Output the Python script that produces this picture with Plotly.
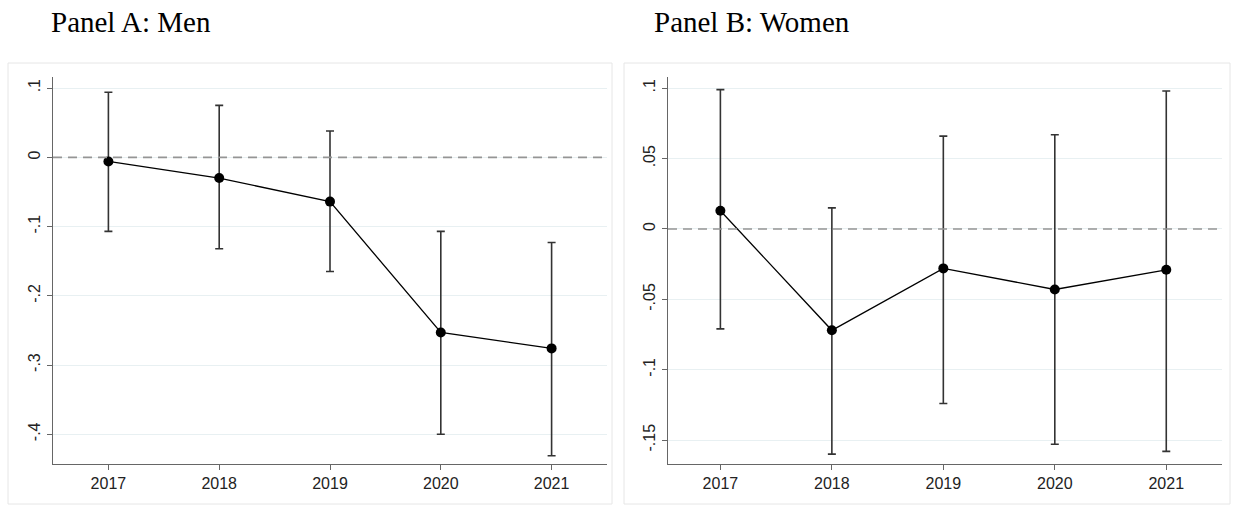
import plotly.graph_objects as go

W, H = 1237, 505

years = [2017, 2018, 2019, 2020, 2021]
year_labels = ["2017", "2018", "2019", "2020", "2021"]

men_coef = [-0.006, -0.030, -0.064, -0.253, -0.276]
men_hi = [0.094, 0.075, 0.038, -0.107, -0.123]
men_lo = [-0.107, -0.132, -0.165, -0.400, -0.431]

women_coef = [0.013, -0.072, -0.028, -0.043, -0.029]
women_hi = [0.099, 0.015, 0.066, 0.067, 0.098]
women_lo = [-0.071, -0.160, -0.124, -0.153, -0.158]

men_ticks = [0.1, 0.0, -0.1, -0.2, -0.3, -0.4]
men_ticktext = [".1", "0", "-.1", "-.2", "-.3", "-.4"]
women_ticks = [0.1, 0.05, 0.0, -0.05, -0.1, -0.15]
women_ticktext = [".1", ".05", "0", "-.05", "-.1", "-.15"]

titles = ["Panel A: Men", "Panel B: Women"]


def px_x(p):
    return p / W


def px_y(p):
    return 1 - p / H


fig = go.Figure()

panels = [
    (men_coef, men_hi, men_lo, "x", "y"),
    (women_coef, women_hi, women_lo, "x2", "y2"),
]
for coef, hi, lo, xa, ya in panels:
    fig.add_trace(go.Scatter(
        x=years, y=coef, xaxis=xa, yaxis=ya, mode="lines+markers",
        line=dict(color="black", width=1.3),
        marker=dict(color="black", size=10),
        error_y=dict(type="data", symmetric=False,
                     array=[h - c for h, c in zip(hi, coef)],
                     arrayminus=[c - l for c, l in zip(coef, lo)],
                     color="#333333", thickness=1.6, width=4),
        showlegend=False, hoverinfo="skip",
    ))

ydom = [px_y(464), px_y(77)]
axis_common = dict(showline=True, linecolor="#666666", linewidth=1.3,
                   ticks="outside", ticklen=5, tickcolor="#666666", tickwidth=1.3,
                   tickfont=dict(family="Liberation Sans, Arial", size=16, color="#222222"),
                   zeroline=False)

fig.update_layout(
    width=W, height=H, margin=dict(l=0, r=0, t=0, b=0),
    paper_bgcolor="white", plot_bgcolor="white",
    xaxis=dict(domain=[px_x(53), px_x(607)], range=[2016.5, 2021.5],
               tickvals=years, ticktext=year_labels, showgrid=False,
               anchor="y", **axis_common),
    yaxis=dict(domain=ydom, range=[-0.443, 0.116],
               tickvals=men_ticks, ticktext=men_ticktext, tickangle=-90,
               showgrid=True, gridcolor="#E8F0F2", gridwidth=1,
               anchor="x", **axis_common),
    xaxis2=dict(domain=[px_x(668), px_x(1222)], range=[2016.53, 2021.5],
                tickvals=years, ticktext=year_labels, showgrid=False,
                anchor="y2", **axis_common),
    yaxis2=dict(domain=ydom, range=[-0.167, 0.108],
                tickvals=women_ticks, ticktext=women_ticktext, tickangle=-90,
                showgrid=True, gridcolor="#E8F0F2", gridwidth=1,
                anchor="x2", **axis_common),
)

# zero reference lines
for xr, yr in [("x domain", "y"), ("x2 domain", "y2")]:
    fig.add_shape(type="line", xref=xr, yref=yr, x0=0, x1=1, y0=0, y1=0,
                  line=dict(color="#959595", width=1.7, dash="9px,6px"), layer="above")

# panel borders
for x0, x1 in [(8, 612), (624, 1230)]:
    fig.add_shape(type="rect", xref="paper", yref="paper",
                  x0=px_x(x0), x1=px_x(x1), y0=px_y(504), y1=px_y(63),
                  line=dict(color="#E6E6E6", width=1), layer="below")

# panel titles
for t, xp in zip(titles, [50, 653]):
    fig.add_annotation(text=t, xref="paper", yref="paper", x=px_x(xp), y=px_y(22),
                       xanchor="left", yanchor="middle", showarrow=False, borderpad=0,
                       font=dict(family="Liberation Serif, Times New Roman", size=29, color="black"))

fig.write_html("out.html", config={"displayModeBar": False},
               post_script="document.body.style.margin='0';document.body.style.overflow='hidden';")
